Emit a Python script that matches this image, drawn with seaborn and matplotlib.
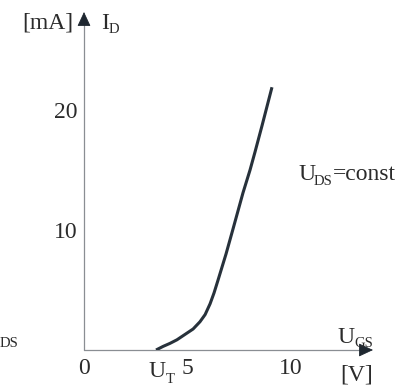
import matplotlib
matplotlib.use("Agg")
import matplotlib.pyplot as plt
import matplotlib.transforms as mtransforms
import pandas as pd
import seaborn as sns

# Transfer characteristic I_D(U_GS) of an enhancement MOSFET at constant U_DS
u_gs = [3.48, 3.82, 4.15, 4.49, 4.88, 5.27, 5.6, 5.85, 6.09, 6.28, 6.47,
        6.86, 7.2, 7.68, 8.02, 8.26, 8.6, 9.08]                 # V
i_d = [0.0, 0.3, 0.55, 0.85, 1.3, 1.75, 2.35, 2.95, 3.85, 4.75, 5.8,
       8.0, 10.1, 13.1, 15.0, 16.5, 18.7, 21.9]                 # mA

u_threshold = 3.48
x_ticks = [0, u_threshold, 5, 10]
x_tick_labels = ["0", "", "5", "10"]
y_ticks = [10, 20]
y_tick_labels = ["10", "20"]

sns.set_theme(style="white")
plt.rcParams["font.family"] = ["Liberation Serif", "DejaVu Serif"]

INK = "#2b2b2b"
CURVE = "#27313b"
AXIS_GREY = "#8a8e93"
HEAD = "#1e2730"
MAIN = 17
SUB = 10.5

W, H = 417, 388
fig = plt.figure(figsize=(W / 100, H / 100), dpi=100)
fig.patch.set_facecolor("white")

x_max, y_max = 13.96, 28.17
ax = fig.add_axes([84 / W, 38 / H, 289 / W, 338 / H])
ax.set_xlim(0, x_max)
ax.set_ylim(0, y_max)
ax.set_facecolor("none")
for spine in ax.spines.values():
    spine.set_visible(False)

df = pd.DataFrame({"U_GS": u_gs, "I_D": i_d})
sns.lineplot(data=df, x="U_GS", y="I_D", ax=ax, color=CURVE, lw=2.2,
             sort=False, estimator=None, solid_capstyle="butt",
             solid_joinstyle="round", zorder=4)
ax.set_xlabel("")
ax.set_ylabel("")

# coordinate axes with arrow heads
ax.plot([0, x_max - 0.3], [0, 0], color=AXIS_GREY, lw=0.9, clip_on=False)
ax.plot([0, 0], [0, y_max - 0.6], color=AXIS_GREY, lw=0.9, clip_on=False)
head = dict(arrowstyle="-|>,head_length=9,head_width=4.2", mutation_scale=1,
            color=HEAD, lw=0.6, shrinkA=0, shrinkB=0)
ax.annotate("", xy=(x_max, 0), xytext=(x_max - 0.6, 0), arrowprops=head,
            annotation_clip=False)
ax.annotate("", xy=(0, y_max), xytext=(0, y_max - 1.0), arrowprops=head,
            annotation_clip=False)

ax.set_xticks(x_ticks, x_tick_labels)
ax.set_yticks(y_ticks, y_tick_labels)
ax.tick_params(axis="both", direction="in", length=6.5, width=0.8,
               color=AXIS_GREY, labelcolor=INK, labelsize=MAIN)
ax.tick_params(axis="y", pad=5)
ax.tick_params(axis="x", pad=6)
ax.grid(False)

# text placed in pixel coordinates (origin top-left)
pix = mtransforms.Affine2D().scale(1 / W, -1 / H).translate(0, 1) + fig.transFigure


def put(s, x, y, size=MAIN):
    fig.text(x, y, s, transform=pix, fontsize=size, color=INK,
             ha="left", va="baseline")


put("[mA]", 22, 28)
put("I", 101, 29)
put("D", 109, 33, SUB)

put("U", 148, 377)
put("T", 166, 383, SUB)

put("U", 337, 343)
put("GS", 354, 347, SUB)
put("[V]", 340, 381)

put("U", 298, 180)
put("DS", 314, 185, SUB)
put("=const", 333, 180)

put("DS", 0, 347, SUB)

fig.savefig("out.png", dpi=100, facecolor="white")
